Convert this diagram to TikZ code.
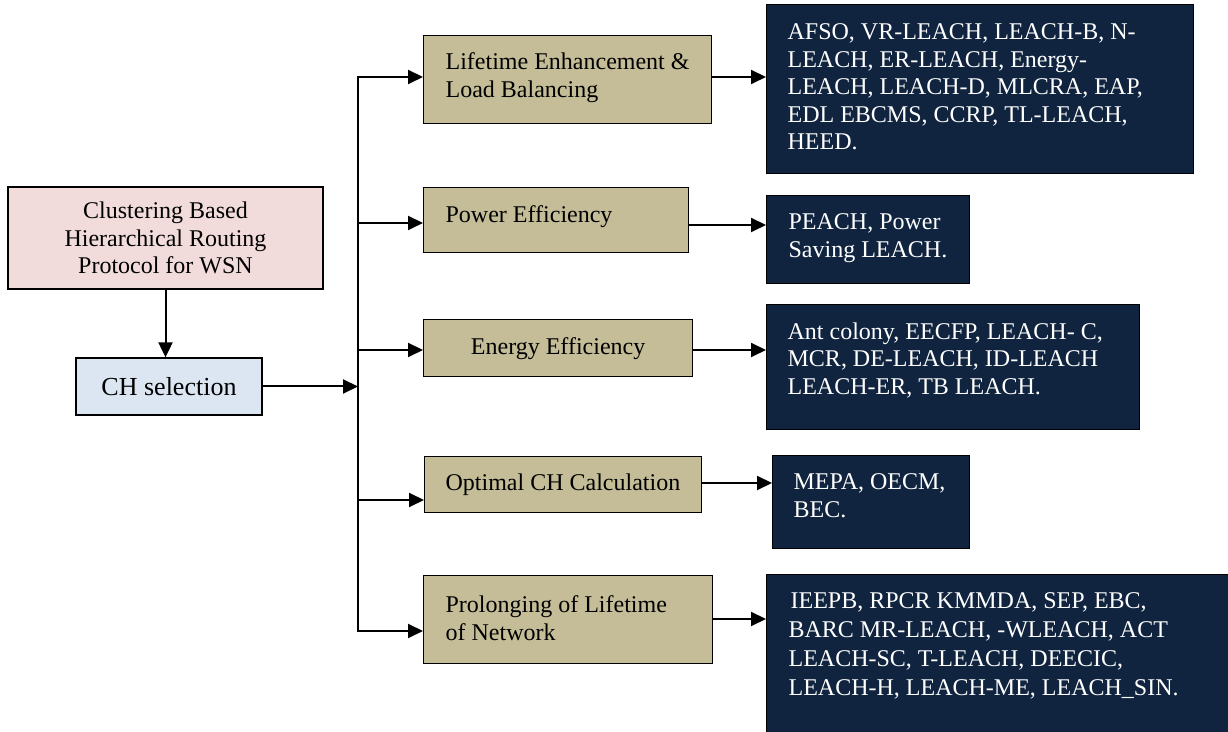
\documentclass[tikz,border=0pt]{standalone}
\usepackage{fontspec}
\setmainfont{Liberation Serif}
\usetikzlibrary{arrows.meta}

\definecolor{pinkfill}{HTML}{F2DCDB}
\definecolor{bluefill}{HTML}{DCE6F2}
\definecolor{tanfill}{HTML}{C4BD97}
\definecolor{navyfill}{HTML}{10243F}

% box body: width, height, left pad, top pad (all in px = 0.5pt), line skip (pt), text
\newcommand{\cellbody}[6]{%
  \parbox[c][\dimexpr #2pt/2\relax][t]{\dimexpr #1pt/2\relax}{%
    \fontsize{12}{#5}\selectfont\raggedright
    \leftskip=\dimexpr #3pt/2\relax
    \vspace*{\dimexpr #4pt/2\relax}#6}}

\begin{document}
\begin{tikzpicture}[x=0.5pt, y=-0.5pt,
  box/.style={draw=black, line width=0.65pt, inner sep=0pt},
  cornerbox/.style={box, anchor=north west},
  tanbox/.style={cornerbox, fill=tanfill},
  darkbox/.style={cornerbox, fill=navyfill, text=white},
  wire/.style={line width=1pt, draw=black},
  arr/.style={wire, -{Triangle[length=7.5pt, width=7pt]}}]

\clip (0,0) rectangle (1228,732);
\fill[white] (0,0) rectangle (1228,732);

% root and selection step
\node[box, fill=pinkfill, minimum width=157.5pt, minimum height=51pt,
      align=center, font=\fontsize{12}{13.8}\selectfont]
  (root) at (165.5,238) {Clustering Based\\Hierarchical Routing\\Protocol for WSN};
\node[box, fill=bluefill, minimum width=93pt, minimum height=28.5pt,
      font=\fontsize{13}{15}\selectfont]
  (ch) at (169,386.5) {CH selection};

% categories
\node[tanbox] (t1) at (423,35)
  {\cellbody{288}{88}{22}{17}{13.8}{Lifetime Enhancement \&\\Load Balancing}};
\node[tanbox] (t2) at (423,187)
  {\cellbody{265}{65}{22}{18}{13.8}{Power Efficiency}};
\node[tanbox] (t3) at (423,319)
  {\parbox[c][28.5pt][t]{134.5pt}{\fontsize{12}{13.8}\selectfont\centering
    \vspace*{9pt}Energy Efficiency}};
\node[tanbox] (t4) at (424,456)
  {\cellbody{277}{56}{21}{17}{13.8}{Optimal CH Calculation}};
\node[tanbox] (t5) at (423,575)
  {\cellbody{289}{88}{22}{20}{13.8}{Prolonging of Lifetime\\of Network}};

% protocol lists
\node[darkbox] (d1) at (766,4)
  {\cellbody{427}{169}{21}{19}{13.75}{AFSO, VR-LEACH, LEACH-B, N-\\LEACH, ER-LEACH, Energy-\\LEACH, LEACH-D, MLCRA, EAP,\\EDL EBCMS, CCRP, TL-LEACH,\\HEED.}};
\node[darkbox] (d2) at (766,195)
  {\cellbody{203}{88}{22}{18}{13.8}{PEACH, Power\\Saving LEACH.}};
\node[darkbox] (d3) at (766,304)
  {\cellbody{373}{125}{21}{18}{13.8}{Ant colony, EECFP, LEACH- C,\\MCR, DE-LEACH, ID-LEACH\\LEACH-ER, TB LEACH.}};
\node[darkbox] (d4) at (772,455)
  {\cellbody{197}{93}{21}{18}{13.8}{MEPA, OECM,\\BEC.}};
\node[darkbox] (d5) at (766,574)
  {\cellbody{484}{200}{22}{18}{14.5}{\hspace*{1pt}IEEPB, RPCR KMMDA, SEP, EBC,\\BARC MR-LEACH, -WLEACH, ACT\\LEACH-SC, T-LEACH, DEECIC,\\LEACH-H, LEACH-ME, LEACH\_SIN.}};

% distribution bus
\coordinate (b1) at (358,77);
\coordinate (b2) at (358,223);
\coordinate (b3) at (358,350);
\coordinate (b4) at (358,500);
\coordinate (b5) at (358,631);
% rows of the outgoing arrows
\coordinate (r1) at (0,77);
\coordinate (r2) at (0,225);
\coordinate (r3) at (0,350);
\coordinate (r4) at (0,483);
\coordinate (r5) at (0,619);

\draw[arr] (root.south) -- (root.south |- ch.north);
\draw[arr] (ch.east) -- (ch.east -| b1);
\draw[wire, line cap=rect] (b1) -- (b5);

\draw[arr] (b1) -- (b1 -| t1.west);
\draw[arr] (b2) -- (b2 -| t2.west);
\draw[arr] (b3) -- (b3 -| t3.west);
\draw[arr] (b4) -- (b4 -| t4.west);
\draw[arr] (b5) -- (b5 -| t5.west);

\draw[arr] (t1.east |- r1) -- (d1.west |- r1);
\draw[arr] (t2.east |- r2) -- (d2.west |- r2);
\draw[arr] (t3.east |- r3) -- (d3.west |- r3);
\draw[arr] (t4.east |- r4) -- (d4.west |- r4);
\draw[arr] (t5.east |- r5) -- (d5.west |- r5);
\end{tikzpicture}
\end{document}
